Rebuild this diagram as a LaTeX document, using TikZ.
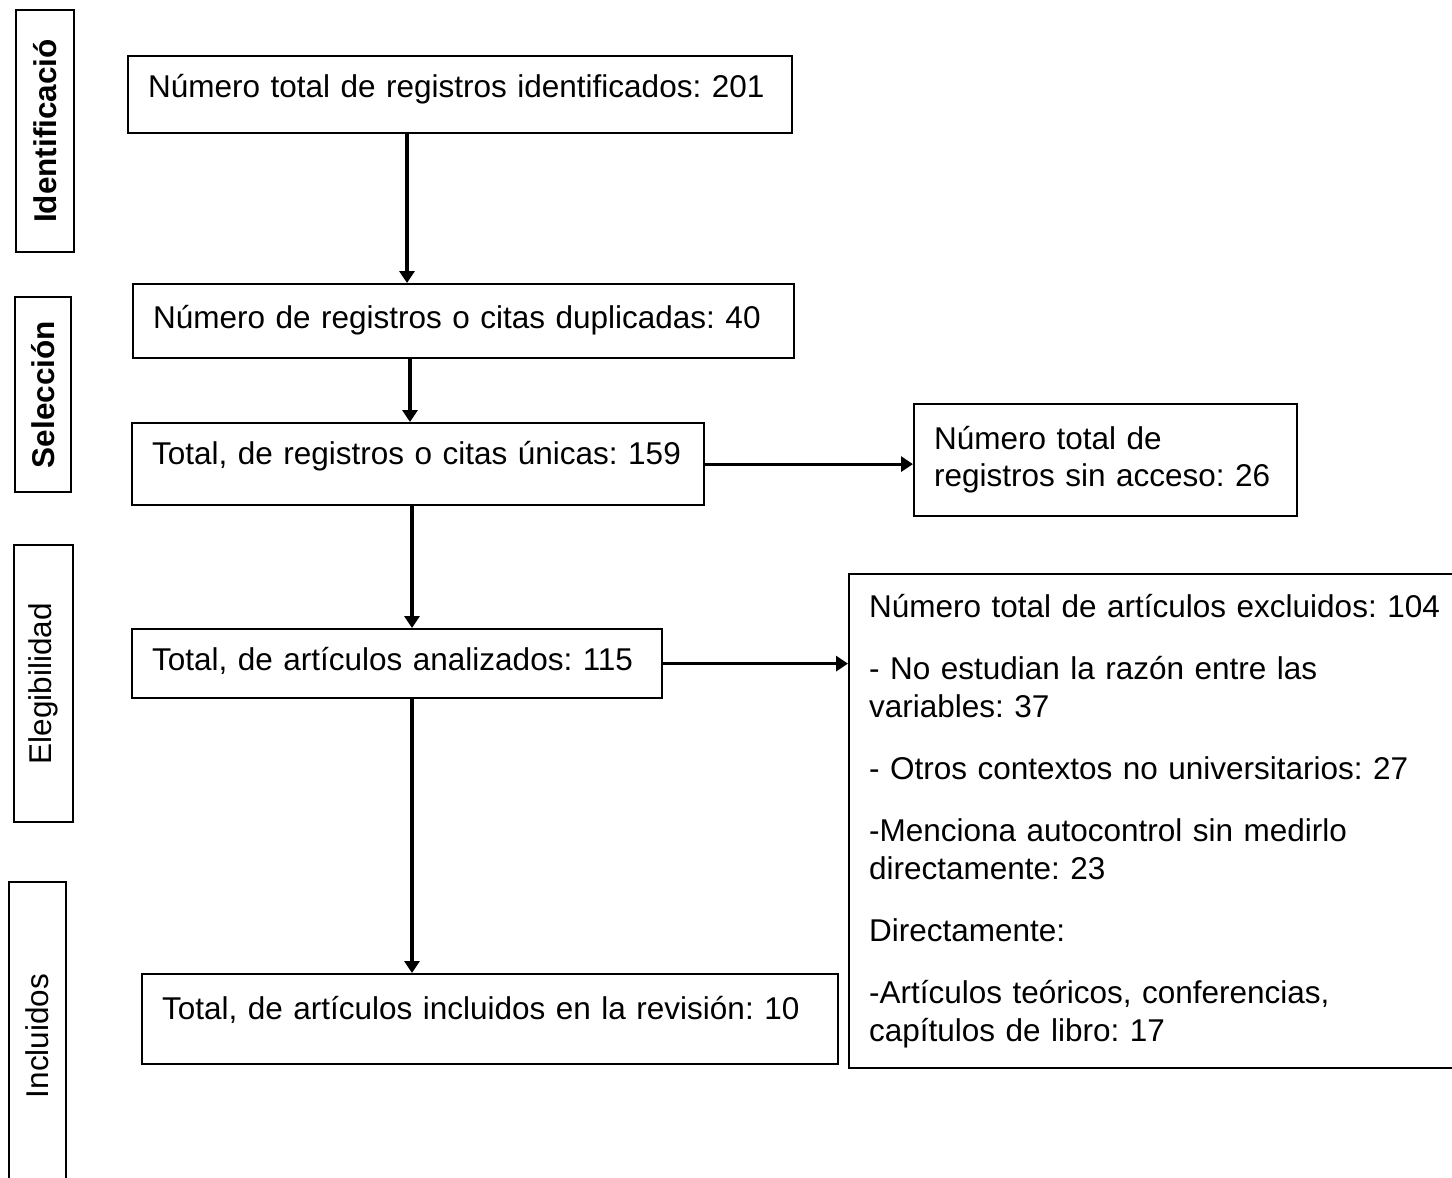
\documentclass[tikz,border=0pt]{standalone}
\usepackage{fontspec}
\setmainfont{Liberation Sans}
\usetikzlibrary{arrows.meta}
\begin{document}
\begin{tikzpicture}[x=0.5pt,y=-0.5pt,
   font=\fontsize{15.75pt}{19pt}\selectfont\frenchspacing,
   box/.style={draw,line width=1.1pt,anchor=north west,align=left,inner xsep=10pt,inner ysep=0pt},
   phase/.style={draw,line width=1.1pt,rotate=90,inner sep=0pt},
   arr/.style={line width=1.6pt,-{Triangle[length=6pt,width=7.5pt]}}]
   \useasboundingbox (0,0) rectangle (1452,1178);
   % fases
   \node [phase,minimum width=121pt,minimum height=29pt] (fid) at (45,131) {\bfseries Identificació};
   \node [phase,minimum width=97.5pt,minimum height=28pt] (fsel) at (43,394.5) {\bfseries Selección};
   \node [phase,minimum width=138.5pt,minimum height=29.5pt] (feleg) at (43.5,683.5) {Elegibilidad};
   \node [phase,minimum width=154pt,minimum height=28.5pt] (fincl) at (37.5,1036) {Incluidos};
   % cajas
   \node [box,text width=312pt,minimum height=38.5pt,text height=11.5pt,text depth=8.5pt] (ident) at (127,55) {Número total de registros identificados: 201};
   \node [box,text width=310.5pt,minimum height=37pt,text height=11.5pt,text depth=4pt] (dupl) at (132,283) {Número de registros o citas duplicadas: 40};
   \node [box,text width=266pt,minimum height=41pt,text height=11.5pt,text depth=11pt] (unic) at (131,422) {Total, de registros o citas únicas: 159};
   \node [box,text width=171.5pt,minimum height=56pt,font=\fontsize{15.75pt}{18.5pt}\selectfont\frenchspacing] (sinacc) at (913,403) {Número total de\\registros sin acceso: 26};
   \node [box,text width=245pt,minimum height=34.5pt,text height=11.5pt,text depth=4.5pt] (anal) at (131,628) {Total, de artículos analizados: 115};
   \node [box,text width=290pt,minimum height=247pt] (excl) at (848,573) {Número total de artículos excluidos: 104\\[12pt]
      - No estudian la razón entre las\\variables: 37\\[12pt]
      - Otros contextos no universitarios: 27\\[12pt]
      -Menciona autocontrol sin medirlo\\directamente: 23\\[12pt]
      Directamente:\\[12pt]
      -Artículos teóricos, conferencias,\\capítulos de libro: 17};
   \node [box,text width=328pt,minimum height=45pt,text height=11.5pt,text depth=11pt] (incl) at (141,973) {Total, de artículos incluidos en la revisión: 10};
   % flechas
   \coordinate (xa) at (407,0);
   \coordinate (xb) at (410,0);
   \coordinate (xc) at (412,0);
   \draw [arr] (ident.south -| xa) -- (dupl.north -| xa);
   \draw [arr] (dupl.south -| xb) -- (unic.north -| xb);
   \draw [arr] (unic.east) -- (unic.east -| sinacc.west);
   \draw [arr] (unic.south -| xc) -- (anal.north -| xc);
   \draw [arr] (anal.east) -- (anal.east -| excl.west);
   \draw [arr] (anal.south -| xc) -- (incl.north -| xc);
\end{tikzpicture}
\end{document}
